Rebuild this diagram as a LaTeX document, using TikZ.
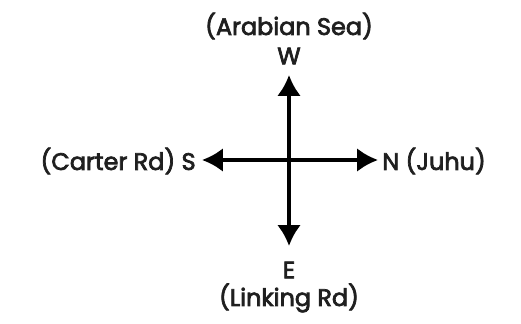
\documentclass[tikz,border=0pt]{standalone}
\usepackage{fontspec}
\setmainfont{Poppins}[FakeBold=3]
\usetikzlibrary{arrows.meta,positioning}

\begin{document}
\begin{tikzpicture}[x=0.02cm,y=-0.02cm,
    lbl/.style={inner sep=0pt,text=black!88,font=\fontsize{13.6}{15}\selectfont},
    dir/.style={-{Latex[length=0.42cm,width=0.48cm]},line width=2.1pt}]
    \useasboundingbox (0,0) rectangle (521,324);
    \coordinate (c) at (289,160);
    % labels
    \node[lbl] (aw) at (289,26) {(Arabian Sea)};
    \node[lbl] (w) at (289,56) {W};
    \node[lbl] (e) at (289,270) {E};
    \node[lbl] (ae) at (289,298) {(Linking Rd)};
    \node[lbl,anchor=east] (s) at (196,161) {(Carter Rd) S};
    \node[lbl,anchor=west] (n) at (382,161) {N (Juhu)};
    % arrow tips
    \coordinate (tw) at (289,75);
    \coordinate (te) at (289,246);
    \coordinate (ts) at (202,160);
    \coordinate (tn) at (378,160);
    \draw[dir] (c) -- (tw);
    \draw[dir] (c) -- (te);
    \draw[dir] (c) -- (ts);
    \draw[dir] (c) -- (tn);
\end{tikzpicture}
\end{document}
